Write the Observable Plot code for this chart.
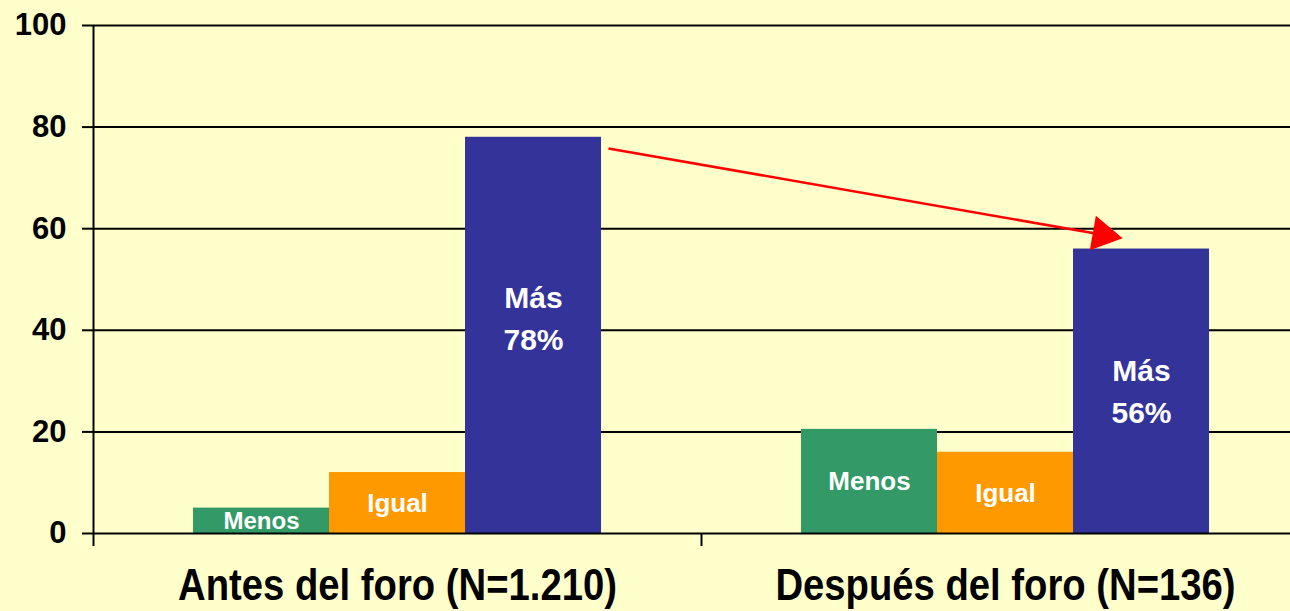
<!DOCTYPE html>
<html><head><meta charset="utf-8">
<script src="https://cdn.jsdelivr.net/npm/d3@7"></script>
<script src="https://cdn.jsdelivr.net/npm/@observablehq/plot@0.6"></script>
<style>
html,body{margin:0;padding:0;background:#FFFFCC;overflow:hidden;}
#chart svg{display:block;}
</style></head><body><div id="chart"></div>
<script>
const groups = ["Antes del foro (N=1.210)", "Después del foro (N=136)"];
const categories = ["Menos", "Igual", "Más"];
const antes = [5, 12, 78];
const despues = [20.5, 16, 56];
const barLabels = [["Menos", "Igual", "Más\n78%"], ["Menos", "Igual", "Más\n56%"]];
const colors = ["#339966", "#FF9900", "#333399"];
const yTicks = [0, 20, 40, 60, 80, 100];
const groupEdges = [0, 1, 2];
const groupCenters = [0.5, 1.5];
const arrowFrom = [0.847, 75.8];
const arrowTo = [1.66, 58.8];

const FONT = "'Liberation Sans', Arial, sans-serif";

const inner = d3.scaleBand(categories, [0, 1]).paddingInner(0).paddingOuter(0.735);
const series = [antes, despues];
const bars = [];
series.forEach((vals, gi) => vals.forEach((v, ci) => {
  const c = categories[ci];
  bars.push({group: groups[gi], cat: c, value: v, label: barLabels[gi][ci],
    x1: gi + inner(c), x2: gi + inner(c) + inner.bandwidth(), xm: gi + inner(c) + inner.bandwidth() / 2});
}));
const isMasAntes = d => d.cat === "Más" && d.group === groups[0];

const plot = Plot.plot({
  width: 1290,
  height: 611,
  marginLeft: 93,
  marginRight: -19,
  marginTop: 25,
  marginBottom: 78,
  style: {background: "#FFFFCC", fontFamily: FONT, color: "#000"},
  x: {domain: [0, 2]},
  y: {domain: [0, 100]},
  color: {domain: categories, range: colors},
  marks: [
    Plot.ruleY(yTicks.filter(d => d > 0), {stroke: "#000", strokeWidth: 2}),
    Plot.rectY(bars, {x1: "x1", x2: "x2", y1: 0, y2: "value", fill: "cat"}),
    Plot.ruleY([0], {stroke: "#000", strokeWidth: 2}),
    Plot.ruleX([0], {y1: 0, y2: 100, stroke: "#000", strokeWidth: 2}),
    Plot.axisY(yTicks, {anchor: "left", tickSize: 11, tickPadding: 16, fontSize: 31, fontWeight: "bold", strokeWidth: 2, fontFamily: FONT}),
    Plot.axisX(groupEdges, {anchor: "bottom", tickSize: 13, tickFormat: () => "", strokeWidth: 2}),
    Plot.axisX(groupCenters, {anchor: "bottom", tickSize: 0, tickPadding: 35, tickFormat: d => groups[Math.floor(d)], fontSize: 45, fontWeight: "bold", fontFamily: FONT}),
    Plot.text(bars.filter(d => !isMasAntes(d)), {
      x: "xm", y: d => d.value / 2, dy: -3, text: "label", fill: "#fff", fontWeight: "bold",
      fontSize: d => d.cat === "Más" ? 30 : (d.value < 8 ? 24 : 26), lineHeight: 1.4, fontFamily: FONT
    }),
    Plot.text(bars.filter(isMasAntes), {
      x: "xm", y: d => d.value / 2, dy: -20, text: "label", fill: "#fff", fontWeight: "bold",
      fontSize: 30, lineHeight: 1.4, fontFamily: FONT
    }),
    Plot.link([{x1: arrowFrom[0], y1: arrowFrom[1], x2: arrowTo[0], y2: arrowTo[1]}], {
      x1: "x1", y1: "y1", x2: "x2", y2: "y2", stroke: "#FF0000", strokeWidth: 2.5
    }),
    Plot.dot([{x: arrowTo[0], y: arrowTo[1]}], {x: "x", y: "y", symbol: "triangle", r: 13, fill: "#FF0000", stroke: "none", rotate: 100})
  ]
});
document.getElementById("chart").appendChild(plot);
// condense group labels (Arial Narrow look)
plot.querySelectorAll("text").forEach(t => {
  if (!groups.includes(t.textContent)) return;
  const w = t.getComputedTextLength();
  if (w > 0) {
    t.setAttribute("textLength", (w * 0.85).toFixed(1));
    t.setAttribute("lengthAdjust", "spacingAndGlyphs");
  }
});
</script>
</body></html>
